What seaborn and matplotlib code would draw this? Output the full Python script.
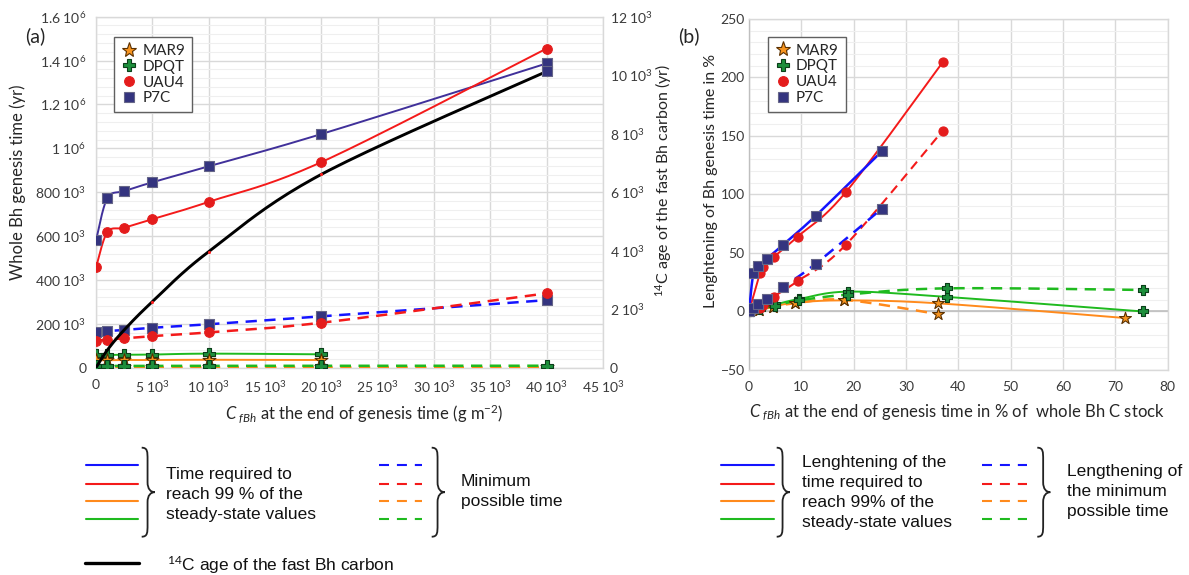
import numpy as np
import pandas as pd
import matplotlib
matplotlib.use("Agg")
import matplotlib.pyplot as plt
import seaborn as sns
from matplotlib.lines import Line2D
from matplotlib.path import Path
from matplotlib.patches import PathPatch
from matplotlib.ticker import MultipleLocator, FixedLocator

sns.set_theme(style="white")
plt.rcParams["font.family"] = ["Lato", "DejaVu Sans"]
plt.rcParams["mathtext.fontset"] = "custom"
plt.rcParams["mathtext.rm"] = "Lato"
plt.rcParams["mathtext.it"] = "Lato:italic"
plt.rcParams["mathtext.bf"] = "Lato:bold"

# ---------------- data : panel (a) ----------------
a_x = [0, 1000, 2500, 5000, 10000, 20000, 40000]
a_x_short = [0, 1000, 2500, 5000, 10000, 20000]
a_p7c_99 = [580e3, 772e3, 805e3, 845e3, 918e3, 1065e3, 1387e3]
a_uau4_99 = [457e3, 617e3, 638e3, 677e3, 756e3, 937e3, 1455e3]
a_dpqt_99 = [58e3, 58e3, 59e3, 60e3, 64e3, 61e3]
a_mar9_99 = [34e3, 34e3, 35e3, 35e3, 36e3, 35e3]
a_p7c_min = [161e3, 167e3, 172e3, 182e3, 198e3, 234e3, 308e3]
a_uau4_min = [123e3, 128e3, 134e3, 144e3, 161e3, 205e3, 339e3]
a_dpqt_min = [8e3, 8e3, 8e3, 8e3, 8.5e3, 8.5e3, 9e3]
a_mar9_min = [3e3, 3e3, 3e3, 3e3, 3e3, 3e3, 3e3]
a_age14c = [0, 600, 1290, 2255, 3965, 6610, 10130]

a_yticks = [0, 200e3, 400e3, 600e3, 800e3, 1000e3, 1200e3, 1400e3, 1600e3]
a_ylabels = ["0", "200 10$^3$", "400 10$^3$", "600 10$^3$", "800 10$^3$",
             "1 10$^6$", "1.2 10$^6$", "1.4 10$^6$", "1.6 10$^6$"]
a_y2ticks = [0, 2000, 4000, 6000, 8000, 10000, 12000]
a_y2labels = ["0", "2 10$^3$", "4 10$^3$", "6 10$^3$", "8 10$^3$", "10 10$^3$", "12 10$^3$"]
a_xticks = [0, 5000, 10000, 15000, 20000, 25000, 30000, 35000, 40000, 45000]
a_xlabels = ["0", "5 10$^3$", "10 10$^3$", "15 10$^3$", "20 10$^3$", "25 10$^3$",
             "30 10$^3$", "35 10$^3$", "40 10$^3$", "45 10$^3$"]

# ---------------- data : panel (b) ----------------
b_x_p7c = [0, 0.83, 1.8, 3.4, 6.5, 12.8, 25.4]
b_p7c_99 = [0, 32.5, 38.5, 45, 57, 82, 137]
b_p7c_min = [0, 3, 6.5, 11, 21, 41, 88]
b_x_uau4 = [0, 2.1, 2.6, 4.7, 9.3, 18.5, 37]
b_uau4_99 = [0, 33, 38, 46.5, 64, 102, 213]
b_uau4_min = [0, 3, 5.5, 12.7, 26, 57, 154.5]
b_x_dpqt = [0, 2.1, 5, 9.6, 19, 37.8, 75.3]
b_dpqt_99 = [0, 3, 6, 10.7, 17, 12.5, 0]
b_dpqt_min = [0, 2, 5, 9.5, 14.5, 19.8, 18.4]
b_x_mar9 = [0, 2, 4.5, 8.8, 18.2, 36.1, 71.9]
b_x_mar9_min = [0, 2, 4.5, 8.8, 18.2, 36.1]
b_mar9_99 = [0, 1, 4, 7.5, 9.5, 7, -5.6]
b_mar9_min = [0, 1, 4, 7, 10, -2.2]

sites = ["MAR9", "DPQT", "UAU4", "P7C"]

# ---------------- styles ----------------
C_BLUE = "#1414ff"
C_PURPLE = "#40309a"
C_RED = "#f41a1a"
C_ORANGE = "#ff8a1c"
C_GREEN = "#1fba1f"
MK = {
    "MAR9": dict(marker="*", face="#f7941f", edge="#5a3000"),
    "DPQT": dict(marker="P", face="#1d8f3c", edge="#0b3f1a"),
    "UAU4": dict(marker="o", face="#e41c1c", edge="#e41c1c"),
    "P7C": dict(marker="s", face="#34347f", edge="#666688"),
}
MSIZE = {"MAR9": 95, "DPQT": 70, "UAU4": 48, "P7C": 55}
DASH = (4.5, 3.0)

W, H = 1189, 575


def smooth(x, y, n=24):
    """Excel-like smoothed line (Catmull-Rom / Bezier) through the data points."""
    P = np.column_stack([np.asarray(x, float), np.asarray(y, float)])
    m = len(P)
    out = [P[0]]
    t = np.linspace(0, 1, n)[1:, None]
    for i in range(m - 1):
        p0 = P[i - 1] if i > 0 else P[i]
        p1, p2 = P[i], P[i + 1]
        p3 = P[i + 2] if i + 2 < m else P[i + 1]
        c1 = p1 + (p2 - p0) / 6.0
        c2 = p2 - (p3 - p1) / 6.0
        seg = ((1 - t) ** 3) * p1 + 3 * ((1 - t) ** 2) * t * c1 + 3 * (1 - t) * t ** 2 * c2 + t ** 3 * p2
        out.extend(seg)
    out = np.array(out)
    return out[:, 0], out[:, 1]


def series(ax, x, y, color, site, dashed=False, lw=1.4, scale=1.0):
    sx, sy = smooth(x, y)
    sns.lineplot(x=sx, y=sy, ax=ax, color=color, linewidth=lw, sort=False,
                 estimator=None, legend=False, zorder=3)
    ln = ax.lines[-1]
    if dashed:
        ln.set_linestyle((0, DASH))
    mk = MK[site]
    sns.scatterplot(x=x, y=y, ax=ax, marker=mk["marker"], s=MSIZE[site] * scale,
                    color=mk["face"], edgecolor=mk["edge"], linewidth=0.8,
                    zorder=5, legend=False)


def style_axes(ax, minor):
    ax.set_axisbelow(True)
    ax.yaxis.set_minor_locator(MultipleLocator(minor))
    ax.grid(which="major", color="#d9d9d9", linewidth=1.0)
    ax.grid(which="minor", axis="y", color="#efefef", linewidth=0.8)
    ax.grid(which="minor", axis="x", visible=False)
    for sp in ax.spines.values():
        sp.set_color("#d9d9d9")
        sp.set_linewidth(1.0)
    ax.tick_params(which="both", length=0, labelsize=10, colors="#3a3a3a")


def marker_legend(ax, anchor):
    handles = []
    for s in sites:
        mk = MK[s]
        handles.append(Line2D([], [], linestyle="none", marker=mk["marker"],
                              markersize={"MAR9": 11, "DPQT": 9, "UAU4": 7, "P7C": 7.5}[s],
                              markerfacecolor=mk["face"], markeredgecolor=mk["edge"],
                              markeredgewidth=0.8, label=s))
    leg = ax.legend(handles=handles, loc="upper left", bbox_to_anchor=anchor,
                    fontsize=11, frameon=True, fancybox=False, framealpha=1,
                    edgecolor="#606060", labelspacing=0.12, handletextpad=0.3,
                    handlelength=1.1, borderpad=0.45, borderaxespad=0)
    leg.get_frame().set_linewidth(1.0)
    leg.set_zorder(10)


fig = plt.figure(figsize=(W / 100, H / 100), dpi=100)

# ---------------- panel (a) ----------------
axA = fig.add_axes([96 / W, 1 - 367.7 / H, (603 - 96) / W, (367.7 - 16.7) / H])
axA.set_xlim(0, 45000)
axA.set_ylim(0, 1.6e6)
style_axes(axA, 40000)

series(axA, a_x, a_p7c_99, C_PURPLE, "P7C")
series(axA, a_x, a_uau4_99, C_RED, "UAU4")
series(axA, a_x_short, a_dpqt_99, C_GREEN, "DPQT")
series(axA, a_x_short, a_mar9_99, C_ORANGE, "MAR9")
series(axA, a_x, a_p7c_min, C_BLUE, "P7C", dashed=True, lw=1.8)
series(axA, a_x, a_uau4_min, C_RED, "UAU4", dashed=True, lw=1.8)
series(axA, a_x, a_mar9_min, C_ORANGE, "MAR9", dashed=True, lw=1.8)
series(axA, a_x, a_dpqt_min, C_GREEN, "DPQT", dashed=True, lw=1.8)

axA.xaxis.set_major_locator(FixedLocator(a_xticks))
axA.set_xticklabels(a_xlabels)
axA.yaxis.set_major_locator(FixedLocator(a_yticks))
axA.set_yticklabels(a_ylabels)
axA.tick_params(axis="y", pad=7)
axA.tick_params(axis="x", pad=8)
axA.set_xlabel(r"$C_{\ fBh}$ at the end of genesis time (g m$^{-2}$)", fontsize=12, color="#262626")
axA.set_ylabel("Whole Bh genesis time (yr)", fontsize=12, color="#262626")
axA.xaxis.set_label_coords((364 - 96) / 507, (367.7 - 413.3) / 351)
axA.xaxis.label.set_va("center")
axA.yaxis.set_label_coords((18 - 96) / 507, (367.7 - 182) / 351)
axA.yaxis.label.set_va("center")

axA2 = axA.twinx()
axA2.set_ylim(0, 12000)
sx, sy = smooth(a_x, a_age14c)
sns.lineplot(x=sx, y=sy, ax=axA2, color="black", linewidth=2.1, sort=False,
             estimator=None, legend=False, zorder=3)
sns.scatterplot(x=a_x[3:6], y=a_age14c[3:6], ax=axA2, marker="o", s=5,
                color="#ff2020", linewidth=0, zorder=4, legend=False)
sns.scatterplot(x=a_x[-1:], y=a_age14c[-1:], ax=axA2, marker="s", s=MSIZE["P7C"],
                color=MK["P7C"]["face"], edgecolor=MK["P7C"]["edge"], linewidth=0.8,
                zorder=5, legend=False)
axA2.yaxis.set_major_locator(FixedLocator(a_y2ticks))
axA2.set_yticklabels(a_y2labels)
axA2.grid(False)
for sp in axA2.spines.values():
    sp.set_visible(False)
axA2.tick_params(length=0, labelsize=10, colors="#3a3a3a", pad=5)
axA2.set_ylabel(r"$^{14}$C age of the fast Bh carbon (yr)", fontsize=11.5, color="#262626")
axA2.yaxis.set_label_coords((664 - 96) / 507, (367.7 - 180) / 351)
axA2.yaxis.label.set_va("center")

marker_legend(axA2, ((114 - 96) / 507, (367.7 - 37) / 351))

# ---------------- panel (b) ----------------
axB = fig.add_axes([749 / W, 1 - 370 / H, (1167.7 - 749) / W, (370 - 19) / H])
axB.set_xlim(0, 80)
axB.set_ylim(-50, 250)
style_axes(axB, 10)
axB.spines["left"].set_color("#bfbfbf")
axB.axhline(0, color="#bfbfbf", linewidth=1.2, zorder=1)
axB.xaxis.set_major_locator(MultipleLocator(10))
axB.yaxis.set_major_locator(MultipleLocator(50))

series(axB, b_x_mar9, b_mar9_99, C_ORANGE, "MAR9", scale=0.85)
series(axB, b_x_mar9_min, b_mar9_min, C_ORANGE, "MAR9", dashed=True, lw=1.8, scale=0.85)
series(axB, b_x_dpqt, b_dpqt_99, C_GREEN, "DPQT", scale=0.85)
series(axB, b_x_dpqt, b_dpqt_min, C_GREEN, "DPQT", dashed=True, lw=1.8, scale=0.85)
series(axB, b_x_uau4, b_uau4_99, C_RED, "UAU4", scale=0.9)
series(axB, b_x_uau4, b_uau4_min, C_RED, "UAU4", dashed=True, lw=1.5, scale=0.9)
series(axB, b_x_p7c, b_p7c_99, C_BLUE, "P7C", lw=1.8, scale=0.85)
series(axB, b_x_p7c, b_p7c_min, C_BLUE, "P7C", dashed=True, lw=1.8, scale=0.85)

axB.tick_params(axis="y", pad=3)
axB.tick_params(axis="x", pad=8)
axB.set_xlabel(r"$C_{\ fBh}$ at the end of genesis time in % of  whole Bh C stock",
               fontsize=12, color="#262626")
axB.set_ylabel("Lenghtening of Bh genesis time in %", fontsize=11.5, color="#262626")
axB.xaxis.set_label_coords((956.7 - 749) / 418.7, (370 - 413.3) / 351)
axB.xaxis.label.set_va("center")
axB.yaxis.set_label_coords((711 - 749) / 418.7, (370 - 180.5) / 351)
axB.yaxis.label.set_va("center")
marker_legend(axB, ((767.7 - 749) / 418.7, (370 - 36.7) / 351))

fig.text(25 / W, 1 - 36 / H, "(a)", fontsize=14, color="#262626", va="center", ha="left")
fig.text(678 / W, 1 - 36 / H, "(b)", fontsize=14, color="#262626", va="center", ha="left")

# ---------------- bottom explanatory legend ----------------
LEG_FONT = "Liberation Sans"
row_y = [465.3, 483.5, 501.0, 518.8]
row_col = [C_BLUE, C_RED, C_ORANGE, C_GREEN]


def fline(x0, x1, y, color, dashed=False, lw=1.5):
    ln = Line2D([x0 / W, x1 / W], [1 - y / H, 1 - y / H], transform=fig.transFigure,
                color=color, linewidth=lw)
    if dashed:
        ln.set_linestyle((0, (4.8, 3.8)))
    fig.add_artist(ln)


def brace(x, y0, y1, w=13):
    ym = (y0 + y1) / 2
    xm = x + w * 0.45
    pts = [(x, y0), (xm, y0), (xm, y0 + 4), (xm, y0 + 12),
           (xm, ym - 10),
           (xm, ym - 3), (x + w * 0.7, ym), (x + w, ym),
           (x + w * 0.7, ym), (xm, ym + 3), (xm, ym + 10),
           (xm, y1 - 12),
           (xm, y1 - 4), (xm, y1), (x, y1)]
    codes = [Path.MOVETO, Path.CURVE4, Path.CURVE4, Path.CURVE4,
             Path.LINETO,
             Path.CURVE4, Path.CURVE4, Path.CURVE4,
             Path.CURVE4, Path.CURVE4, Path.CURVE4,
             Path.LINETO,
             Path.CURVE4, Path.CURVE4, Path.CURVE4]
    verts = [(px / W, 1 - py / H) for px, py in pts]
    fig.add_artist(PathPatch(Path(verts, codes), transform=fig.transFigure,
                             fill=False, edgecolor="#222222", linewidth=1.3))


for yy, cc in zip(row_y, row_col):
    fline(86, 138.3, yy, cc)
    fline(379, 422, yy, cc, dashed=True)
    fline(720.7, 774, yy, cc)
    fline(981.7, 1027.3, yy, cc, dashed=True)

brace(141.7, 447.7, 536.7)
brace(431.7, 447.7, 536.7)
brace(776.7, 447.7, 536.7)
brace(1037.3, 447.7, 536.7)

txt = dict(fontfamily=LEG_FONT, fontsize=12.5, color="#111111", va="center", ha="left",
           linespacing=1.42)
fig.text(166 / W, 1 - 494.3 / H, "Time required to\nreach 99 % of the\nsteady-state values", **txt)
fig.text(461 / W, 1 - 491.7 / H, "Minimum\npossible time", **txt)
fig.text(802.3 / W, 1 - 492.8 / H,
         "Lenghtening of the\ntime required to\nreach 99% of the\nsteady-state values", **txt)
fig.text(1067.3 / W, 1 - 491.5 / H, "Lengthening of\nthe minimum\npossible time", **txt)

fline(85, 139.3, 563.3, "black", lw=2.4)
fig.text(166.7 / W, 1 - 565 / H, r"$^{14}$C age of the fast Bh carbon",
         fontfamily=LEG_FONT, fontsize=12.5, color="#111111", va="center", ha="left")

fig.savefig("out.png", dpi=100)
